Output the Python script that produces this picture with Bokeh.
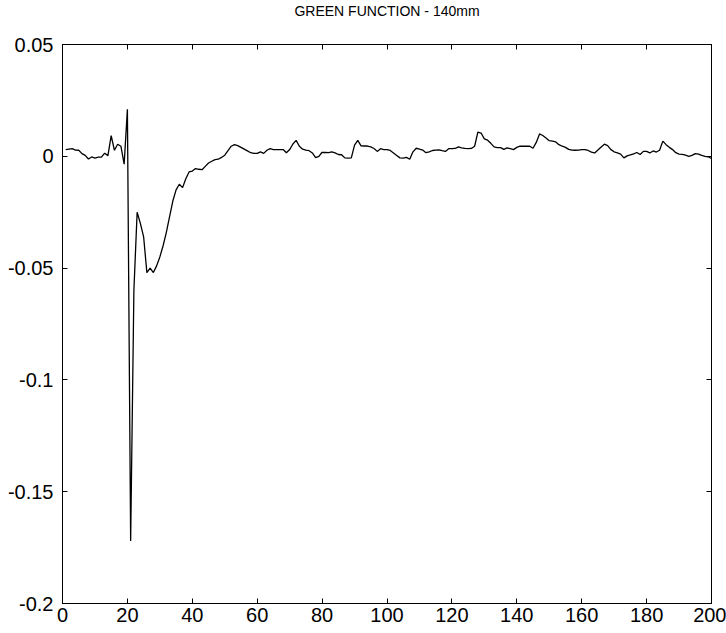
from bokeh.plotting import figure
from bokeh.models import LinearAxis, FixedTicker, CustomJSTickFormatter, Range1d
from bokeh.embed import file_html
from bokeh.resources import INLINE

title_text = "GREEN FUNCTION - 140mm"

green_values = [
    0.0030, 0.0032, 0.0034, 0.0028, 0.0027, 0.0012, 0.0004, -0.0012, -0.0003, -0.0008,
    -0.0004, -0.0004, 0.0014, 0.0003, 0.0092, 0.0027, 0.0054, 0.0045, -0.0035, 0.0210,
    -0.1720, -0.0600, -0.0250, -0.0300, -0.0360, -0.0520, -0.0500, -0.0520, -0.0490, -0.0450,
    -0.0400, -0.0340, -0.0270, -0.0200, -0.0150, -0.0125, -0.0140, -0.0100, -0.0070, -0.0066,
    -0.0055, -0.0058, -0.0060, -0.0045, -0.0030, -0.0022, -0.0015, -0.0013, -0.0005, 0.0005,
    0.0025, 0.0045, 0.0052, 0.0048, 0.0040, 0.0032, 0.0024, 0.0016, 0.0013, 0.0013,
    0.0020, 0.0013, 0.0027, 0.0034, 0.0030, 0.0030, 0.0030, 0.0030, 0.0016, 0.0030,
    0.0055, 0.0071, 0.0045, 0.0032, 0.0028, 0.0025, 0.0015, -0.0006, 0.0000, 0.0018,
    0.0017, 0.0016, 0.0020, 0.0015, 0.0008, 0.0007, -0.0007, -0.0008, -0.0007, 0.0050,
    0.0071, 0.0047, 0.0046, 0.0046, 0.0042, 0.0035, 0.0022, 0.0034, 0.0030, 0.0030,
    0.0026, 0.0015, 0.0004, -0.0007, -0.0008, -0.0005, -0.0013, 0.0020, 0.0036, 0.0032,
    0.0028, 0.0016, 0.0020, 0.0026, 0.0028, 0.0029, 0.0025, 0.0022, 0.0034, 0.0034,
    0.0035, 0.0042, 0.0038, 0.0035, 0.0034, 0.0035, 0.0045, 0.0108, 0.0104, 0.0078,
    0.0072, 0.0058, 0.0042, 0.0039, 0.0039, 0.0031, 0.0038, 0.0034, 0.0030, 0.0040,
    0.0045, 0.0045, 0.0045, 0.0045, 0.0036, 0.0062, 0.0100, 0.0093, 0.0082, 0.0070,
    0.0068, 0.0064, 0.0052, 0.0045, 0.0040, 0.0031, 0.0028, 0.0027, 0.0028, 0.0030,
    0.0030, 0.0026, 0.0019, 0.0015, 0.0028, 0.0042, 0.0054, 0.0048, 0.0030, 0.0020,
    0.0015, 0.0010, -0.0007, 0.0002, 0.0006, 0.0011, 0.0017, 0.0008, 0.0022, 0.0022,
    0.0015, 0.0024, 0.0019, 0.0027, 0.0068, 0.0052, 0.0040, 0.0030, 0.0016, 0.0010,
    0.0009, 0.0005, 0.0000, 0.0004, 0.0012, 0.0010, 0.0004, 0.0000, -0.0002, -0.0010,
]
sample_index = list(range(1, len(green_values) + 1))

x_ticks = [0, 20, 40, 60, 80, 100, 120, 140, 160, 180, 200]
y_ticks = [-0.2, -0.15, -0.1, -0.05, 0.0, 0.05]
x_limits = (0, 200)
y_limits = (-0.2, 0.05)

FONT = "Liberation Sans"

p = figure(
    width=726, height=633,
    output_backend="svg", toolbar_location=None,
    x_range=Range1d(*x_limits), y_range=Range1d(*y_limits),
    min_border_left=62, min_border_right=15, min_border_top=44, min_border_bottom=30,
    title=title_text,
)
p.title.align = "center"
p.title.text_font = FONT
p.title.text_font_size = "14px"
p.title.text_font_style = "normal"
p.title.text_color = "black"
p.title.standoff = 0

p.grid.visible = False
p.outline_line_color = "black"
p.outline_line_width = 1
p.background_fill_color = "white"
p.border_fill_color = "white"

fmt = CustomJSTickFormatter(code="""
    if (Math.abs(tick) < 1e-9) { return "0"; }
    var s = tick.toFixed(2);
    s = s.replace(/0+$/, "").replace(/\\.$/, "");
    return s;
""")
blank_fmt = CustomJSTickFormatter(code='return "";')

def style_axis(ax, show_labels):
    ax.major_tick_in = 5
    ax.major_tick_out = 0
    ax.minor_tick_line_color = None
    ax.axis_line_color = "black"
    ax.major_tick_line_color = "black"
    ax.major_label_text_color = "black"
    ax.major_label_text_font = FONT
    if show_labels:
        ax.major_label_text_font_size = "20px"
        ax.major_label_standoff = 4
    else:
        ax.formatter = blank_fmt
        ax.major_label_text_font_size = "1px"
        ax.major_label_standoff = 0

p.xaxis.ticker = FixedTicker(ticks=x_ticks)
p.yaxis.ticker = FixedTicker(ticks=y_ticks)
p.yaxis.formatter = fmt
style_axis(p.xaxis[0], True)
style_axis(p.yaxis[0], True)
p.yaxis[0].major_label_standoff = 9

top_axis = LinearAxis(ticker=FixedTicker(ticks=x_ticks))
right_axis = LinearAxis(ticker=FixedTicker(ticks=y_ticks))
style_axis(top_axis, False)
style_axis(right_axis, False)
# spacer so that the title sits at the top edge like the reference
top_axis.axis_label = " "
top_axis.axis_label_text_font_size = "10px"
top_axis.axis_label_standoff = 12
p.add_layout(top_axis, "above")
p.add_layout(right_axis, "right")

p.line(sample_index, green_values, line_color="black", line_width=1.3)

open("out.html", "w").write(file_html(p, INLINE))
